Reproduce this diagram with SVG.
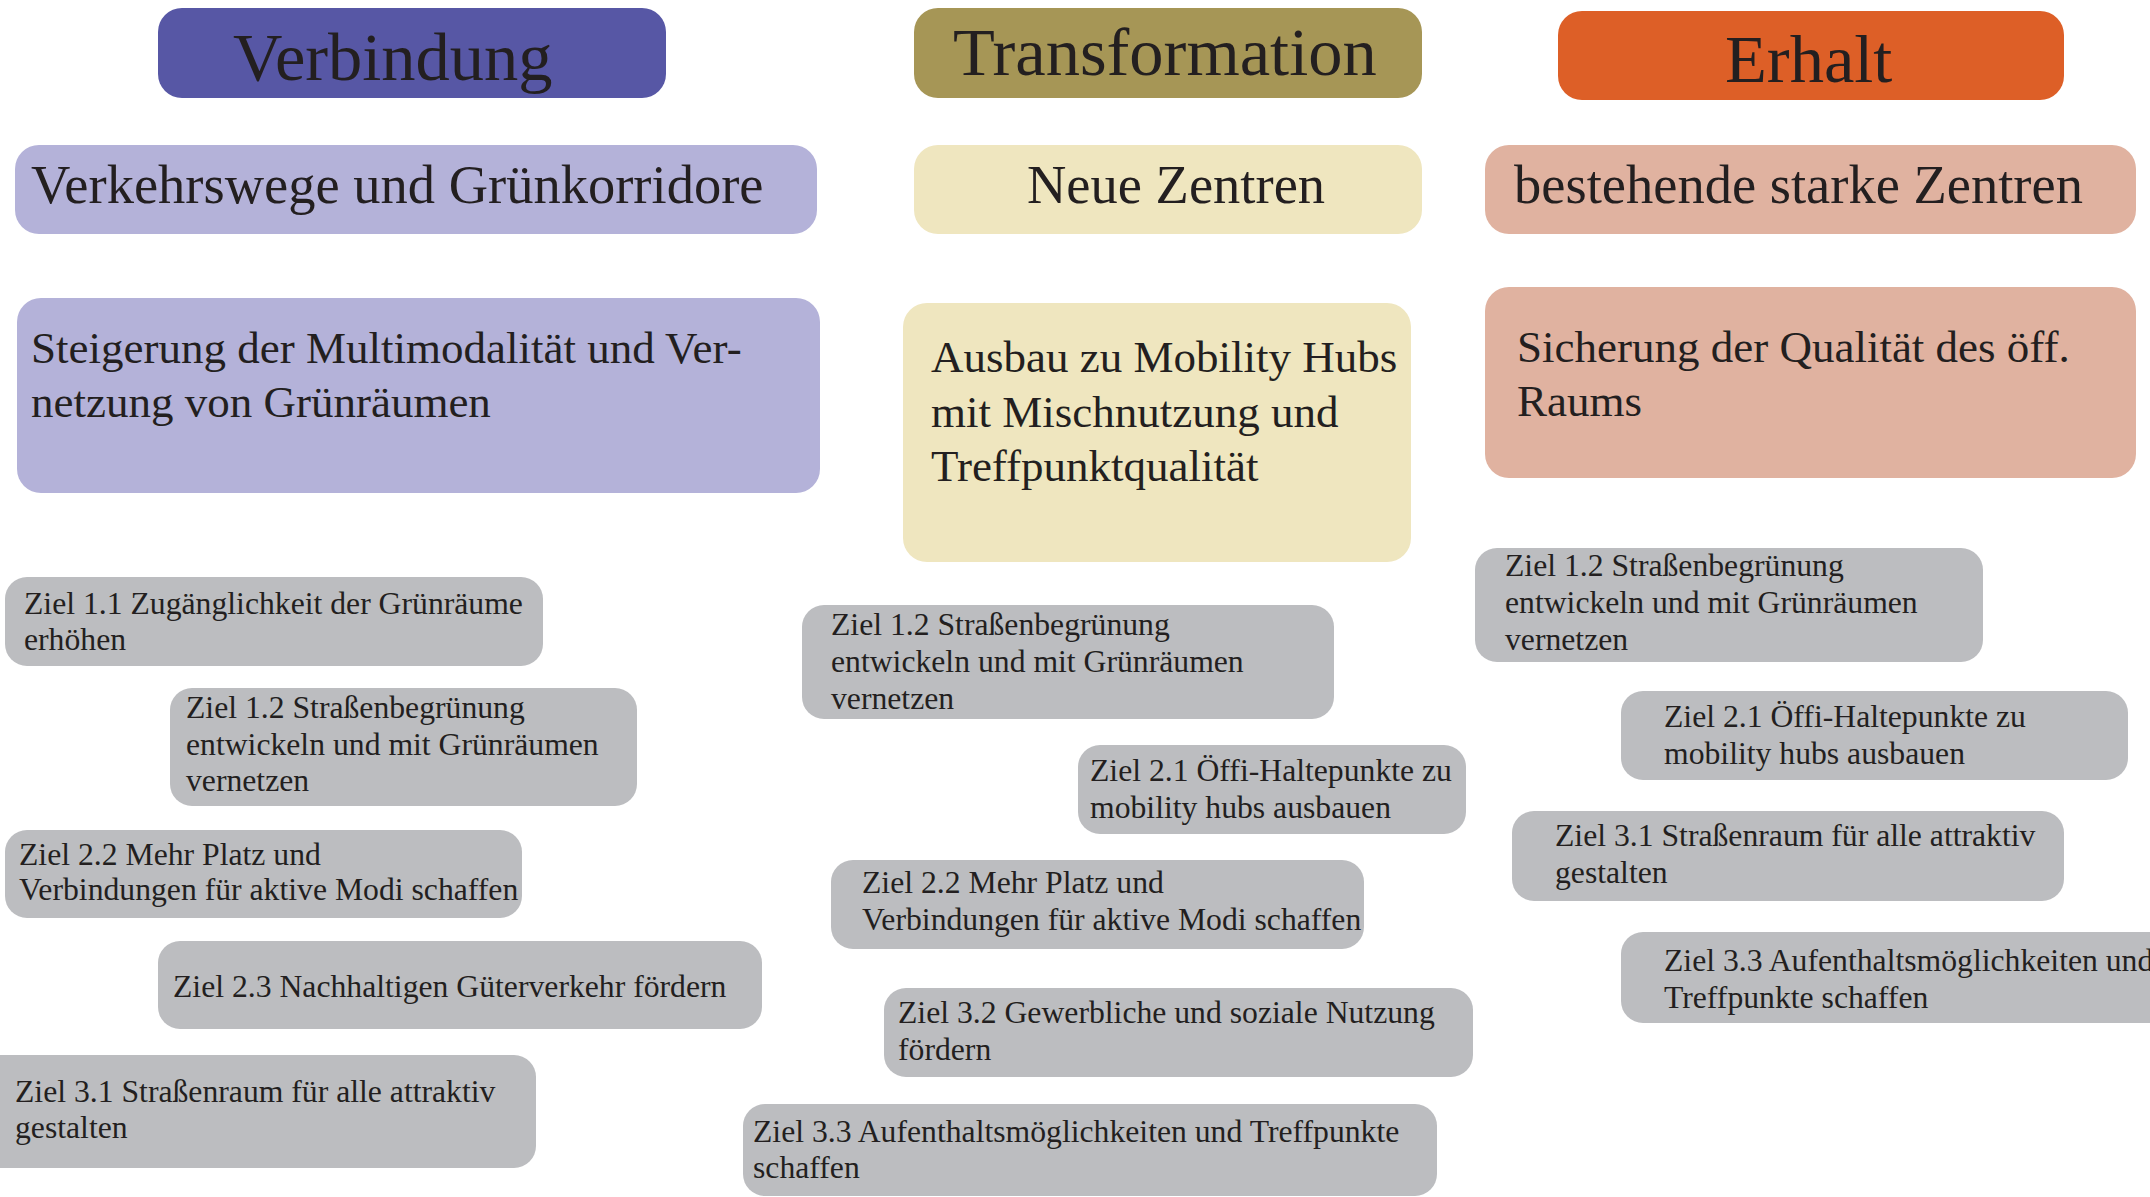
<svg xmlns="http://www.w3.org/2000/svg" width="2150" height="1197" viewBox="0 0 2150 1197">
<style>
text{font-family:"Liberation Serif","Times New Roman",serif;fill:#231F20}
.t1{font-size:68.5px}
.t2{font-size:54.5px}
.t3{font-size:45px}
.z{font-size:31.7px}
.ziel{fill:#BCBDC0}
</style>
<rect width="2150" height="1197" fill="#FFFFFF"/>
<g id="connectors"/>
<g id="verbindung"><rect x="158" y="8" width="508" height="90" rx="24" fill="#5757A5"/><text class="t1" x="233" y="80">Verbindung</text></g>
<g id="transformation"><rect x="914" y="8" width="508" height="90" rx="24" fill="#A69656"/><text class="t1" x="953" y="75">Transformation</text></g>
<g id="erhalt"><rect x="1558" y="11" width="506" height="89" rx="24" fill="#DD5F27"/><text class="t1" x="1725" y="82">Erhalt</text></g>

<g id="verkehrswege"><rect x="15" y="145" width="802" height="89" rx="24" fill="#B4B2D9"/><text class="t2" x="31" y="203">Verkehrswege und Grünkorridore</text></g>
<g id="neue-zentren"><rect x="914" y="145" width="508" height="89" rx="24" fill="#EFE6BF"/><text class="t2" x="1027" y="203">Neue Zentren</text></g>
<g id="bestehende"><rect x="1485" y="145" width="651" height="89" rx="24" fill="#E0B2A0"/><text class="t2" x="1514" y="203">bestehende starke Zentren</text></g>

<g id="steigerung"><rect x="17" y="298" width="803" height="195" rx="24" fill="#B4B2D9"/><text class="t3" x="31" y="363">Steigerung der Multimodalität und Ver-</text><text class="t3" x="31" y="417">netzung von Grünräumen</text></g>
<g id="ausbau"><rect x="903" y="303" width="508" height="259" rx="24" fill="#EFE6BF"/><text class="t3" x="931" y="372">Ausbau zu Mobility Hubs</text><text class="t3" x="931" y="427">mit Mischnutzung und</text><text class="t3" x="931" y="481">Treffpunktqualität</text></g>
<g id="sicherung"><rect x="1485" y="287" width="651" height="191" rx="24" fill="#E0B2A0"/><text class="t3" x="1517" y="362">Sicherung der Qualität des öff.</text><text class="t3" x="1517" y="416">Raums</text></g>

<g id="v-ziel-1-1"><rect class="ziel" x="5" y="577" width="538" height="89" rx="22"/><text class="z" x="24" y="614">Ziel 1.1 Zugänglichkeit der Grünräume</text><text class="z" x="24" y="650">erhöhen</text></g>
<g id="v-ziel-1-2"><rect class="ziel" x="170" y="688" width="467" height="118" rx="22"/><text class="z" x="186" y="718">Ziel 1.2 Straßenbegrünung</text><text class="z" x="186" y="755">entwickeln und mit Grünräumen</text><text class="z" x="186" y="791">vernetzen</text></g>
<g id="v-ziel-2-2"><rect class="ziel" x="5" y="830" width="517" height="88" rx="22"/><text class="z" x="19" y="865">Ziel 2.2 Mehr Platz und</text><text class="z" x="19" y="900">Verbindungen für aktive Modi schaffen</text></g>
<g id="v-ziel-2-3"><rect class="ziel" x="158" y="941" width="604" height="88" rx="22"/><text class="z" x="173" y="997">Ziel 2.3 Nachhaltigen Güterverkehr fördern</text></g>
<g id="v-ziel-3-1"><rect class="ziel" x="-20" y="1055" width="556" height="113" rx="22"/><text class="z" x="15" y="1102">Ziel 3.1 Straßenraum für alle attraktiv</text><text class="z" x="15" y="1138">gestalten</text></g>

<g id="t-ziel-1-2"><rect class="ziel" x="802" y="605" width="532" height="114" rx="22"/><text class="z" x="831" y="635">Ziel 1.2 Straßenbegrünung</text><text class="z" x="831" y="672">entwickeln und mit Grünräumen</text><text class="z" x="831" y="709">vernetzen</text></g>
<g id="t-ziel-2-1"><rect class="ziel" x="1078" y="745" width="388" height="89" rx="22"/><text class="z" x="1090" y="781">Ziel 2.1 Öffi-Haltepunkte zu</text><text class="z" x="1090" y="818">mobility hubs ausbauen</text></g>
<g id="t-ziel-2-2"><rect class="ziel" x="831" y="860" width="533" height="89" rx="22"/><text class="z" x="862" y="893">Ziel 2.2 Mehr Platz und</text><text class="z" x="862" y="930">Verbindungen für aktive Modi schaffen</text></g>
<g id="t-ziel-3-2"><rect class="ziel" x="884" y="988" width="589" height="89" rx="22"/><text class="z" x="898" y="1023">Ziel 3.2 Gewerbliche und soziale Nutzung</text><text class="z" x="898" y="1060">fördern</text></g>
<g id="t-ziel-3-3"><rect class="ziel" x="743" y="1104" width="694" height="92" rx="22"/><text class="z" x="753" y="1142">Ziel 3.3 Aufenthaltsmöglichkeiten und Treffpunkte</text><text class="z" x="753" y="1178">schaffen</text></g>

<g id="e-ziel-1-2"><rect class="ziel" x="1475" y="548" width="508" height="114" rx="22"/><text class="z" x="1505" y="576">Ziel 1.2 Straßenbegrünung</text><text class="z" x="1505" y="613">entwickeln und mit Grünräumen</text><text class="z" x="1505" y="650">vernetzen</text></g>
<g id="e-ziel-2-1"><rect class="ziel" x="1621" y="691" width="507" height="89" rx="22"/><text class="z" x="1664" y="727">Ziel 2.1 Öffi-Haltepunkte zu</text><text class="z" x="1664" y="764">mobility hubs ausbauen</text></g>
<g id="e-ziel-3-1"><rect class="ziel" x="1512" y="811" width="552" height="90" rx="22"/><text class="z" x="1555" y="846">Ziel 3.1 Straßenraum für alle attraktiv</text><text class="z" x="1555" y="883">gestalten</text></g>
<g id="e-ziel-3-3"><rect class="ziel" x="1621" y="932" width="560" height="91" rx="22"/><text class="z" x="1664" y="971">Ziel 3.3 Aufenthaltsmöglichkeiten und</text><text class="z" x="1664" y="1008">Treffpunkte schaffen</text></g>
</svg>
